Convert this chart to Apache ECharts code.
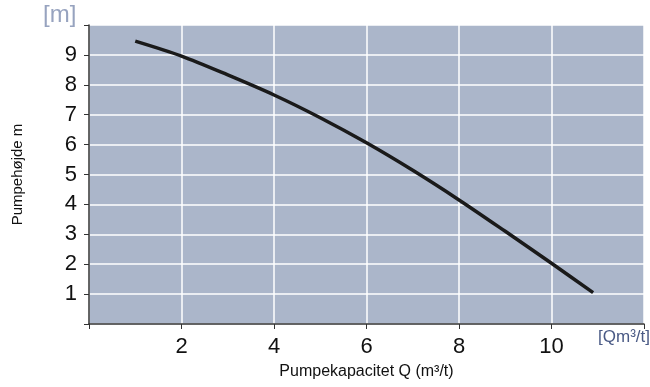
<!DOCTYPE html>
<html><head><meta charset="utf-8">
<script src="https://cdn.jsdelivr.net/npm/echarts@6/dist/echarts.min.js"></script>
<style>html,body{margin:0;padding:0;background:#fff}#c{width:650px;height:387px}</style>
</head><body><div id="c"></div>
<script>
const flowQ = [1, 2, 3, 4, 5, 6, 7, 8, 9, 10, 10.9];
const headM = [9.46, 8.96, 8.33, 7.66, 6.9, 6.06, 5.14, 4.15, 3.1, 2.03, 1.05];
const xTicks = [2, 4, 6, 8, 10];
const yTicks = [1, 2, 3, 4, 5, 6, 7, 8, 9];
const yUnit = '[m]';
const xUnit = '[Qm³/t]';
const xName = 'Pumpekapacitet Q (m³/t)';
const yName = 'Pumpehøjde m';

const font = '"Liberation Sans Narrow","Liberation Sans",Arial,sans-serif';
const chart = echarts.init(document.getElementById('c'), null, {renderer: 'canvas'});
chart.setOption({
  animation: false,
  grid: {left: 89, right: 6, top: 25, bottom: 63, backgroundColor: '#abb6ca', show: true, borderWidth: 0,
    containLabel: false, outerBoundsMode: 'none'},
  xAxis: {
    type: 'value', min: 0, max: 12, interval: 2,
    name: xName, nameLocation: 'middle', nameGap: 40,
    nameTextStyle: {fontFamily: font, fontSize: 16, color: '#111'},
    axisLine: {show: true, lineStyle: {color: '#333', width: 1.5}},
    axisTick: {show: true, length: 5, lineStyle: {color: '#333'}},
    splitLine: {show: true, lineStyle: {color: '#ffffff', width: 1.5}},
    axisLabel: {fontFamily: font, fontSize: 22, color: '#111', margin: 12,
      formatter: v => xTicks.includes(v) ? String(v) : ''}
  },
  yAxis: {
    type: 'value', min: 0, max: 10, interval: 1,
    name: yName, nameLocation: 'middle', nameGap: 64, nameRotate: 90,
    nameTextStyle: {fontFamily: font, fontSize: 15, color: '#111'},
    axisLine: {show: true, lineStyle: {color: '#333', width: 1.5}},
    axisTick: {show: true, length: 5, lineStyle: {color: '#333'}},
    splitLine: {show: true, lineStyle: {color: '#ffffff', width: 1.5}},
    axisLabel: {fontFamily: font, fontSize: 22, color: '#111', margin: 12,
      formatter: v => yTicks.includes(v) ? String(v) : ''}
  },
  graphic: [
    {type: 'text', left: 43, top: 3, style: {text: yUnit, font: '24px ' + font, fill: '#97a3bf'}},
    {type: 'text', right: 0, top: 329, style: {text: xUnit, font: '17px ' + font, fill: '#4a5a85'}}
  ],
  series: [{
    type: 'line', smooth: 0.3, symbol: 'none',
    data: flowQ.map((q, i) => [q, headM[i]]),
    lineStyle: {color: '#1a1a1a', width: 3.5}
  }]
});
</script></body></html>
